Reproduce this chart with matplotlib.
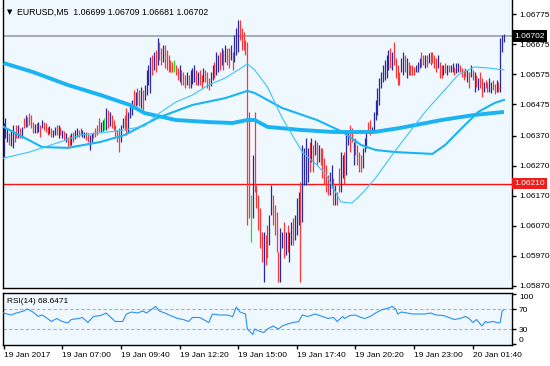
import matplotlib
matplotlib.use("Agg")
import matplotlib.pyplot as plt
import matplotlib.transforms as mtransforms

plt.rcParams['font.family'] = ['Liberation Sans', 'DejaVu Sans']

symbol = "EURUSD,M5"
last_ohlc = "1.06699 1.06709 1.06681 1.06702"
bid_price = 1.06702
alert_level = 1.06210
rsi_label = "RSI(14) 68.6471"

# M5 bars, highs / lows
highs = [
    1.06412, 1.06429, 1.06395, 1.06379, 1.06389, 1.06405, 1.06382, 1.06405, 1.06405, 1.06395,
    1.06399, 1.06429, 1.06439, 1.06432, 1.06445, 1.06439, 1.06415, 1.06409, 1.06412, 1.06415,
    1.06405, 1.06422, 1.06415, 1.06412, 1.06399, 1.06402, 1.06395, 1.06389, 1.06399, 1.06405,
    1.06405, 1.06399, 1.06389, 1.06385, 1.06379, 1.06365, 1.06372, 1.06379, 1.06382, 1.06389,
    1.06395, 1.06389, 1.06395, 1.06389, 1.06382, 1.06382, 1.06379, 1.06372, 1.06379, 1.06382,
    1.06395, 1.06405, 1.06429, 1.06415, 1.06422, 1.06429, 1.06462, 1.06455, 1.06449, 1.06439,
    1.06422, 1.06405, 1.06389, 1.06395, 1.06405, 1.06429, 1.06439, 1.06462, 1.06449, 1.06472,
    1.06489, 1.06522, 1.06515, 1.06529, 1.06522, 1.06532, 1.06522, 1.06539, 1.06589, 1.06605,
    1.06632, 1.06639, 1.06649, 1.06655, 1.06695, 1.06682, 1.06662, 1.06672, 1.06672, 1.06655,
    1.06639, 1.06622, 1.06615, 1.06622, 1.06605, 1.06595, 1.06605, 1.06589, 1.06582, 1.06572,
    1.06582, 1.06572, 1.06589, 1.06595, 1.06605, 1.06589, 1.06582, 1.06589, 1.06572, 1.06595,
    1.06589, 1.06582, 1.06562, 1.06582, 1.06605, 1.06615, 1.06649, 1.06639, 1.06649, 1.06662,
    1.06655, 1.06672, 1.06662, 1.06662, 1.06672, 1.06649, 1.06705, 1.06729, 1.06755, 1.06755,
    1.06729, 1.06715, 1.06689, 1.06682, 1.06449, 1.06172, 1.06305, 1.06449, 1.06205, 1.06172,
    1.06129, 1.06049, 1.06049, 1.06039, 1.06072, 1.06105, 1.06205, 1.06172, 1.06139, 1.06115,
    1.05982, 1.06062, 1.06049, 1.06082, 1.06049, 1.06072, 1.06049, 1.06082, 1.06095, 1.06105,
    1.06162, 1.06182, 1.06215, 1.06339, 1.06329, 1.06362, 1.06329, 1.06349, 1.06362, 1.06339,
    1.06355, 1.06349, 1.06339, 1.06329, 1.06329, 1.06295, 1.06272, 1.06239, 1.06249, 1.06272,
    1.06229, 1.06205, 1.06182, 1.06262, 1.06315, 1.06305, 1.06315, 1.06372, 1.06382, 1.06405,
    1.06395, 1.06349, 1.06362, 1.06339, 1.06315, 1.06305, 1.06329, 1.06362, 1.06382, 1.06415,
    1.06422, 1.06399, 1.06449, 1.06489, 1.06529, 1.06562, 1.06582, 1.06605, 1.06622, 1.06639,
    1.06655, 1.06662, 1.06649, 1.06682, 1.06629, 1.06605, 1.06582, 1.06629, 1.06649, 1.06639,
    1.06629, 1.06615, 1.06605, 1.06605, 1.06599, 1.06605, 1.06615, 1.06629, 1.06649, 1.06639,
    1.06639, 1.06639, 1.06645, 1.06649, 1.06649, 1.06639, 1.06629, 1.06639, 1.06615, 1.06605,
    1.06605, 1.06612, 1.06605, 1.06605, 1.06605, 1.06612, 1.06599, 1.06612, 1.06612, 1.06605,
    1.06595, 1.06589, 1.06595, 1.06589, 1.06582, 1.06605, 1.06589, 1.06582, 1.06572, 1.06562,
    1.06582, 1.06562, 1.06549, 1.06555, 1.06549, 1.06562, 1.06549, 1.06555, 1.06542, 1.06555,
    1.06549, 1.06695, 1.06705, 1.06709,
]
lows = [
    1.06299, 1.06362, 1.06349, 1.06339, 1.06335, 1.06329, 1.06349, 1.06362, 1.06362, 1.06362,
    1.06362, 1.06395, 1.06399, 1.06399, 1.06405, 1.06395, 1.06379, 1.06379, 1.06379, 1.06382,
    1.06365, 1.06395, 1.06389, 1.06382, 1.06372, 1.06375, 1.06365, 1.06365, 1.06372, 1.06372,
    1.06362, 1.06372, 1.06362, 1.06355, 1.06349, 1.06329, 1.06335, 1.06339, 1.06349, 1.06359,
    1.06365, 1.06365, 1.06372, 1.06365, 1.06362, 1.06355, 1.06349, 1.06322, 1.06349, 1.06362,
    1.06365, 1.06372, 1.06382, 1.06382, 1.06385, 1.06389, 1.06389, 1.06395, 1.06402, 1.06395,
    1.06389, 1.06369, 1.06349, 1.06315, 1.06349, 1.06395, 1.06389, 1.06372, 1.06379, 1.06429,
    1.06439, 1.06465, 1.06469, 1.06472, 1.06469, 1.06462, 1.06455, 1.06489, 1.06505, 1.06539,
    1.06512, 1.06572, 1.06589, 1.06582, 1.06605, 1.06622, 1.06605, 1.06615, 1.06595, 1.06589,
    1.06582, 1.06582, 1.06582, 1.06582, 1.06572, 1.06555, 1.06549, 1.06539, 1.06539, 1.06529,
    1.06539, 1.06529, 1.06529, 1.06542, 1.06549, 1.06539, 1.06539, 1.06539, 1.06529, 1.06549,
    1.06549, 1.06529, 1.06522, 1.06535, 1.06555, 1.06562, 1.06572, 1.06582, 1.06589, 1.06605,
    1.06589, 1.06615, 1.06605, 1.06595, 1.06622, 1.06589, 1.06615, 1.06639, 1.06649, 1.06689,
    1.06655, 1.06655, 1.06639, 1.06072, 1.06095, 1.06015, 1.06095, 1.06182, 1.06129, 1.06055,
    1.05995, 1.05949, 1.05882, 1.05939, 1.05962, 1.06005, 1.06105, 1.06072, 1.06039, 1.05982,
    1.05882, 1.05882, 1.05995, 1.05962, 1.05972, 1.05982, 1.05949, 1.06005, 1.06005, 1.06022,
    1.06039, 1.06072, 1.05882, 1.06082, 1.06205, 1.06205, 1.06215, 1.06249, 1.06282, 1.06249,
    1.06305, 1.06272, 1.06282, 1.06272, 1.06229, 1.06205, 1.06182, 1.06172, 1.06172, 1.06195,
    1.06139, 1.06139, 1.06139, 1.06182, 1.06182, 1.06229, 1.06205, 1.06239, 1.06339, 1.06315,
    1.06349, 1.06272, 1.06305, 1.06272, 1.06249, 1.06249, 1.06262, 1.06315, 1.06329, 1.06382,
    1.06372, 1.06379, 1.06382, 1.06422, 1.06439, 1.06472, 1.06529, 1.06549, 1.06555, 1.06562,
    1.06589, 1.06595, 1.06589, 1.06605, 1.06562, 1.06539, 1.06539, 1.06582, 1.06572, 1.06582,
    1.06562, 1.06572, 1.06572, 1.06572, 1.06572, 1.06582, 1.06582, 1.06595, 1.06599, 1.06605,
    1.06595, 1.06599, 1.06612, 1.06605, 1.06612, 1.06595, 1.06582, 1.06595, 1.06562, 1.06562,
    1.06572, 1.06579, 1.06572, 1.06582, 1.06582, 1.06582, 1.06572, 1.06579, 1.06582, 1.06582,
    1.06565, 1.06555, 1.06565, 1.06549, 1.06529, 1.06565, 1.06555, 1.06515, 1.06532, 1.06522,
    1.06529, 1.06499, 1.06515, 1.06529, 1.06515, 1.06515, 1.06512, 1.06522, 1.06509, 1.06515,
    1.06515, 1.06515, 1.06649, 1.06681,
]
# u = up bar, d = down bar, g = green bar
bar_dirs = ("uuuduuddud" "ududdddudu" "duddduduud" "udududdudu" "udduudduud"
            "ddduugudud" "dddduudduu" "ududduduuu" "udududdudd" "dddgdduddd"
            "uduuududdu" "ddduuduudu" "dudduduuud" "dddddguddd" "ddudduuddd"
            "duududuudu" "uuduuuudud" "ududdddduu" "dudduuduud" "dudddduuud"
            "duuuuuuuuu" "ududddduud" "udddduuudd" "ududdddudd" "ududuuduud"
            "dddudududu" "ddudduuddu" "duuu")

# moving averages (bar index, value)
fast_ma_idx = [0, 14, 31, 42, 53, 66, 77, 85, 94, 103, 112, 121, 128, 133, 137, 144, 152,
               163, 171, 176, 184, 190, 196, 203, 214, 230, 248, 257, 265, 273]
fast_ma = [1.06295, 1.06315, 1.06349, 1.06372, 1.06379, 1.06389, 1.06402, 1.06445, 1.06482,
           1.06505, 1.06539, 1.06562, 1.06589, 1.06609, 1.06589, 1.06532, 1.06429, 1.06315,
           1.06272, 1.06239, 1.06149, 1.06145, 1.06179, 1.06229, 1.06322, 1.06449, 1.06572,
           1.06599, 1.06595, 1.06589]
mid_ma_idx = [0, 21, 35, 53, 66, 84, 103, 121, 133, 137, 152, 171, 185, 195, 203, 214, 234,
              241, 250, 259, 268, 273]
mid_ma = [1.06399, 1.06332, 1.06329, 1.06349, 1.06372, 1.06429, 1.06472, 1.06495, 1.06519,
          1.06512, 1.06462, 1.06422, 1.06382, 1.06339, 1.06322, 1.06315, 1.06309, 1.06339,
          1.06395, 1.06449, 1.06479, 1.06489]
slow_ma_idx = [0, 16, 35, 53, 69, 77, 94, 112, 125, 133, 137, 144, 162, 180, 202, 216, 239,
               257, 273]
slow_ma = [1.06612, 1.06582, 1.06539, 1.06505, 1.06472, 1.06445, 1.06422, 1.06415, 1.06412,
           1.06422, 1.06422, 1.06399, 1.06389, 1.06382, 1.06382, 1.06395, 1.06422, 1.06439,
           1.06449]

rsi_idx = [0, 4, 7, 11, 13, 16, 19, 21, 24, 26, 29, 32, 35, 37, 41, 43, 46, 49, 53, 56,
           58, 61, 65, 67, 70, 73, 76, 78, 81, 83, 85, 88, 91, 95, 98, 101, 103, 107, 110, 112,
           114, 118, 122, 125, 127, 129, 132, 133, 136, 137, 140, 142, 144, 147, 150, 152, 155,
           158, 161, 163, 166, 170, 174, 177, 180, 182, 185, 186, 189, 192, 195, 197, 200, 203,
           206, 210, 212, 214, 215, 217, 220, 223, 226, 230, 233, 236, 240, 243, 246, 249, 252,
           254, 256, 258, 261, 263, 264, 267, 270, 271, 272, 273]
rsi_vals = [62, 58, 62, 66, 70, 64, 55, 58, 51, 45, 51, 45, 42, 49, 51, 53, 43, 55, 57, 62,
            55, 45, 45, 60, 64, 62, 66, 62, 70, 75, 66, 62, 57, 51, 49, 45, 53, 53, 47, 43,
            60, 58, 58, 55, 74, 64, 60, 30, 19, 30, 25, 23, 30, 36, 30, 36, 40, 43, 45, 58,
            55, 60, 55, 51, 53, 45, 55, 51, 57, 58, 53, 51, 55, 62, 68, 72, 75, 70, 60, 64,
            62, 60, 60, 60, 62, 58, 57, 53, 49, 51, 55, 51, 43, 49, 36, 45, 43, 45, 42, 43,
            66, 68.6471]

price_ticks = [1.06775, 1.06675, 1.06575, 1.06475, 1.06370, 1.06270, 1.06170, 1.06070,
               1.05970, 1.05870]
rsi_ticks = [0, 30, 70, 100]
time_tick_idx = [0, 32, 64, 96, 128, 160, 192, 224, 256]
time_tick_labels = ["19 Jan 2017", "19 Jan 07:00", "19 Jan 09:40", "19 Jan 12:20",
                    "19 Jan 15:00", "19 Jan 17:40", "19 Jan 20:20", "19 Jan 23:00",
                    "20 Jan 01:40"]

dir_colors = {'u': '#2a2aa0', 'd': '#ff3434', 'g': '#1ee01e'}
ma_color = '#1ab4f2'
bg = '#f0f8ff'
W, H = 550, 366

fig = plt.figure(figsize=(5.5, 3.66), dpi=100)
ax = fig.add_axes([3 / W, 1 - 288 / H, 509 / W, 288 / H])
ax2 = fig.add_axes([3 / W, 1 - 345 / H, 509 / W, 52 / H])

for a in (ax, ax2):
    a.set_facecolor(bg)
    a.set_xlim(-0.3, 277.4)
    for s in a.spines.values():
        s.set_color('black')
        s.set_linewidth(1)
ax.spines['top'].set_visible(False)

# price bars
idx = list(range(len(highs)))
ax.vlines(idx, lows, highs, colors=[dir_colors[c] for c in bar_dirs], linewidth=0.9, zorder=3)

# moving averages
ax.plot(slow_ma_idx, slow_ma, color=ma_color, lw=2.8, solid_capstyle='butt', zorder=4)
ax.plot(mid_ma_idx, mid_ma, color=ma_color, lw=1.5, zorder=4)
ax.plot(fast_ma_idx, fast_ma, color='#3cc4f5', lw=0.8, zorder=4)

# bid line and alert level
ax.axhline(bid_price, color='#a6abb0', lw=1.4, zorder=2)
ax.axhline(alert_level, color='#ff1010', lw=1.0, zorder=2)

ax.set_ylim(1.05862, 1.06822)
ax.set_xticks([])
ax.yaxis.tick_right()
ax.set_yticks(price_ticks)
ax.set_yticklabels([f"{v:.5f}" for v in price_ticks])
ax.tick_params(axis='y', direction='out', length=3, width=1, pad=2, labelsize=6, colors='black')

trans = mtransforms.blended_transform_factory(ax.transAxes, ax.transData)
ax.text(1.004, bid_price, f"{bid_price:.5f}", transform=trans, color='white', fontsize=6,
        va='center', ha='left', zorder=6,
        bbox=dict(boxstyle='square,pad=0.25', fc='black', ec='none'))
ax.text(1.004, alert_level, f"{alert_level:.5f}", transform=trans, color='white', fontsize=6,
        va='center', ha='left', zorder=6,
        bbox=dict(boxstyle='square,pad=0.25', fc='#f01c1c', ec='none'))

fig.text(7 / W, 1 - 12 / H, "\u25bc", fontsize=5, va='center', ha='left', family=['DejaVu Sans'])
fig.text(17 / W, 1 - 12 / H, f"{symbol}  {last_ohlc}", fontsize=6.3, va='center', ha='left')

# RSI panel
ax2.plot(rsi_idx, rsi_vals, color='#2b8ff0', lw=0.8, zorder=3)
for lvl in (70, 30):
    ax2.axhline(lvl, color='#b0b0b0', lw=0.8, ls=(0, (3, 2)), zorder=2)
ax2.set_ylim(-2, 102)
ax2.yaxis.tick_right()
ax2.set_yticks(rsi_ticks)
ax2.set_yticklabels([str(v) for v in rsi_ticks])
ax2.tick_params(axis='y', direction='out', length=3, width=1, pad=2, labelsize=6)
for lbl, v in zip(ax2.get_yticklabels(), rsi_ticks):
    if v == 100:
        lbl.set_va('top')
    elif v == 0:
        lbl.set_va('bottom')
ax2.set_xticks(time_tick_idx)
ax2.set_xticklabels(time_tick_labels)
ax2.tick_params(axis='x', direction='out', length=3, width=1, pad=2, labelsize=6)
for lbl in ax2.get_xticklabels():
    lbl.set_ha('left')
ax2.text(0.008, 0.83, rsi_label, transform=ax2.transAxes, fontsize=6, va='center', ha='left')

fig.savefig("out.png", dpi=100, facecolor='white')
